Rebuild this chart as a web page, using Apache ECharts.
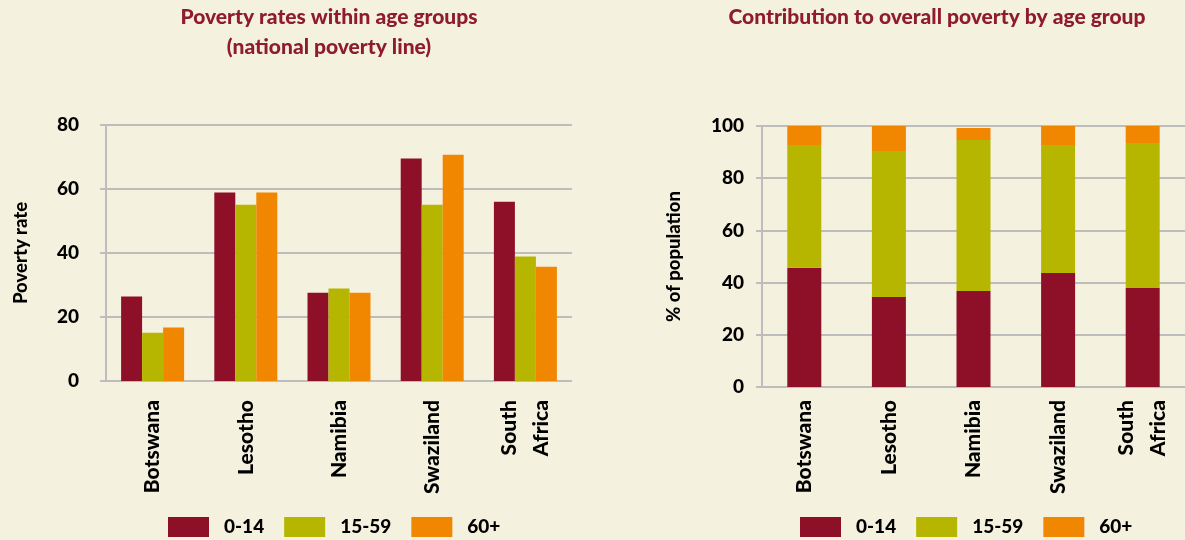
<!DOCTYPE html>
<html>
<head>
<meta charset="utf-8">
<script src="https://cdn.jsdelivr.net/npm/echarts@6/dist/echarts.min.js"></script>
<style>
html,body{margin:0;padding:0;background:#F5F1DF;}
#c{width:1185px;height:540px;}
</style>
</head>
<body>
<div id="c"></div>
<script>
// ---- data ----
const countries = ['Botswana', 'Lesotho', 'Namibia', 'Swaziland', 'South\nAfrica'];
const ageGroups = ['0-14', '15-59', '60+'];
// Poverty rates within age groups (national poverty line), %
const rate0_14  = [26.4, 58.9, 27.6, 69.5, 56.0];
const rate15_59 = [15.1, 55.1, 28.9, 55.1, 38.9];
const rate60    = [16.7, 58.9, 27.6, 70.7, 35.7];
// Contribution to overall poverty by age group, % of poor population
const share0_14  = [45.7, 34.5, 36.8, 43.7, 37.9];
const share15_59 = [47.0, 55.9, 57.8, 49.0, 55.6];
const share60    = [7.3, 9.6, 4.6, 7.3, 6.5];
const leftTicks  = {min: 0, max: 80, interval: 20};
const rightTicks = {min: 0, max: 100, interval: 20};

// ---- style ----
const colors = ['#8E1028', '#B6B600', '#F18700'];
const FONT = 'Lato';
const W = 900;
const gridColor = '#BDBDBD';
const chart = echarts.init(document.getElementById('c'));

function yAxis(idx, t, name, labelMargin, nameGap) {
  return {
    type: 'value', gridIndex: idx, min: t.min, max: t.max, interval: t.interval,
    name: name, nameLocation: 'middle', nameGap: nameGap,
    nameTextStyle: {fontFamily: FONT, fontWeight: W, fontSize: 18.5, color: '#000'},
    axisLine: {show: true, lineStyle: {color: gridColor, width: 2}},
    axisTick: {show: true, length: 6, lineStyle: {color: gridColor, width: 2}},
    splitLine: {show: true, lineStyle: {color: gridColor, width: 2}},
    axisLabel: {fontFamily: FONT, fontWeight: W, fontSize: 19, color: '#000', margin: labelMargin}
  };
}
function xAxis(idx, margin) {
  return {
    type: 'category', gridIndex: idx, data: countries,
    axisLine: {show: false}, axisTick: {show: false},
    axisLabel: {rotate: 90, interval: 0, fontFamily: FONT, fontWeight: W, fontSize: 21,
      color: '#000', margin: margin, lineHeight: 32}
  };
}
function legend(left) {
  return {
    left: left, top: 517, padding: 0, itemWidth: 41, itemHeight: 20, itemGap: 20,
    icon: 'rect', data: ageGroups,
    textStyle: {fontFamily: FONT, fontWeight: W, fontSize: 19, color: '#000', padding: [0, 0, 0, 10]}
  };
}

chart.setOption({
  backgroundColor: '#F5F1DF',
  animation: false,
  color: colors,
  title: [
    {text: 'Poverty rates within age groups\n(national poverty line)', left: 329, top: 2, padding: 0,
     textAlign: 'center',
     textStyle: {fontFamily: FONT, fontWeight: W, fontSize: 21, color: '#8E1B2E', lineHeight: 30}},
    {text: 'Contribution to overall poverty by age group', left: 937, top: 2, padding: 0,
     textAlign: 'center',
     textStyle: {fontFamily: FONT, fontWeight: W, fontSize: 21, color: '#8E1B2E', lineHeight: 30}}
  ],
  legend: [legend(168), legend(800)],
  grid: [
    {left: 106, top: 125, width: 466, height: 256},
    {left: 762, top: 126, width: 436, height: 261}
  ],
  xAxis: [xAxis(0, 19), xAxis(1, 13)],
  yAxis: [yAxis(0, leftTicks, 'Poverty rate', 27, 75), yAxis(1, rightTicks, '% of population', 18, 78)],
  series: [
    {name: ageGroups[0], type: 'bar', xAxisIndex: 0, yAxisIndex: 0, data: rate0_14, barWidth: 21, barGap: '0%'},
    {name: ageGroups[1], type: 'bar', xAxisIndex: 0, yAxisIndex: 0, data: rate15_59, barWidth: 21, barGap: '0%'},
    {name: ageGroups[2], type: 'bar', xAxisIndex: 0, yAxisIndex: 0, data: rate60, barWidth: 21, barGap: '0%'},
    {name: ageGroups[0], type: 'bar', xAxisIndex: 1, yAxisIndex: 1, stack: 's', data: share0_14, barWidth: 34},
    {name: ageGroups[1], type: 'bar', xAxisIndex: 1, yAxisIndex: 1, stack: 's', data: share15_59, barWidth: 34},
    {name: ageGroups[2], type: 'bar', xAxisIndex: 1, yAxisIndex: 1, stack: 's', data: share60, barWidth: 34}
  ]
});
</script>
</body>
</html>
